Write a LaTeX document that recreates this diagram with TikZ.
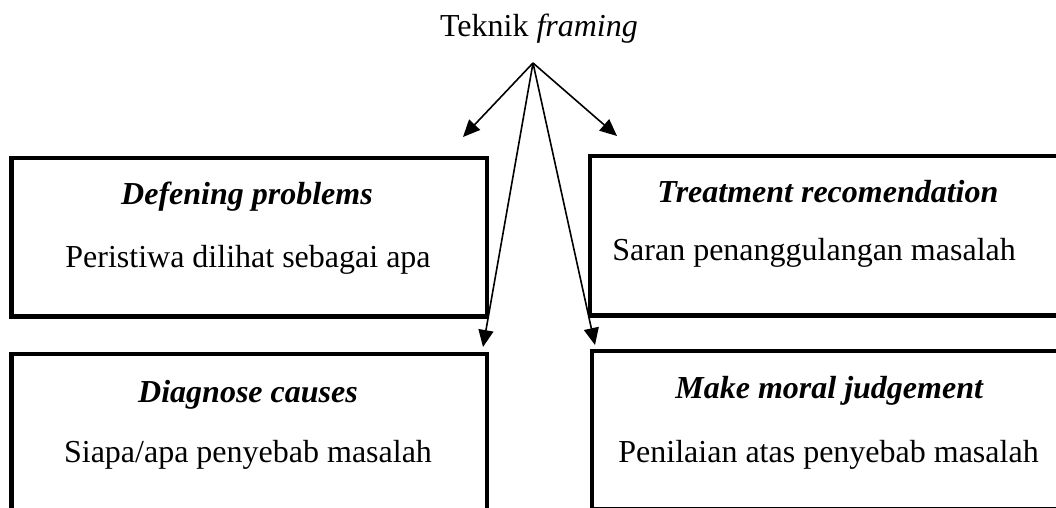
\documentclass[tikz,border=0pt]{standalone}
\usepackage{fontspec}
\setmainfont{Liberation Serif}
\usetikzlibrary{arrows.meta, positioning}
\tikzset{
  framebox/.style = {
    rectangle, draw=black, line width=2.25pt,
    minimum width=237.75pt, minimum height=79pt, inner sep=0pt
  },
  headtxt/.style = {inner sep=0pt, font=\fontsize{16}{19}\selectfont\bfseries\itshape},
  bodytxt/.style = {inner sep=0pt, font=\fontsize{16}{19}\selectfont},
  arr/.style = {-{Triangle[length=8.5pt, width=7.5pt]}, line width=0.8pt, black}
}

\begin{document}
\begin{tikzpicture}[x=0.5pt, y=-0.5pt]

\clip (0,0) rectangle (1056,508);

\node[bodytxt, anchor=base] (title) at (539,37) {Teknik \textit{framing}};

\node[framebox] (defbox) at (249.25,237.25) {};
\node[framebox, minimum height=79.75pt] (trtbox) at (827.75,235.75) {};
\node[framebox] (diabox) at (249.25,432.75) {};
\node[framebox] (morbox) at (829.75,429.75) {};

\node[headtxt, anchor=base] (defhead) at (247,205) {Defening problems};
\node[bodytxt, anchor=base] (deftxt) at (248,267) {Peristiwa dilihat sebagai apa};

\node[headtxt, anchor=base west] (trthead) at (657,203) {Treatment recomendation};
\node[bodytxt, anchor=base west] (trttxt) at (612,260) {Saran penanggulangan masalah};

\node[headtxt, anchor=base] (diahead) at (248,402) {Diagnose causes};
\node[bodytxt, anchor=base] (diatxt) at (248,462) {Siapa/apa penyebab masalah};

\node[headtxt, anchor=base west] (morhead) at (675,398) {Make moral judgement};
\node[bodytxt, anchor=base west] (mortxt) at (618,462) {Penilaian atas penyebab masalah};

% arrows from the title
\coordinate (src) at (533,63);
\coordinate (deftip) at (463,137);
\coordinate (trttip) at (617,136);
\coordinate (diatip) at (483,347);
\coordinate (mortip) at (595,345);

\foreach \t in {deftip, trttip, diatip, mortip}
  \draw[arr] (src) -- (\t);

\end{tikzpicture}
\end{document}
